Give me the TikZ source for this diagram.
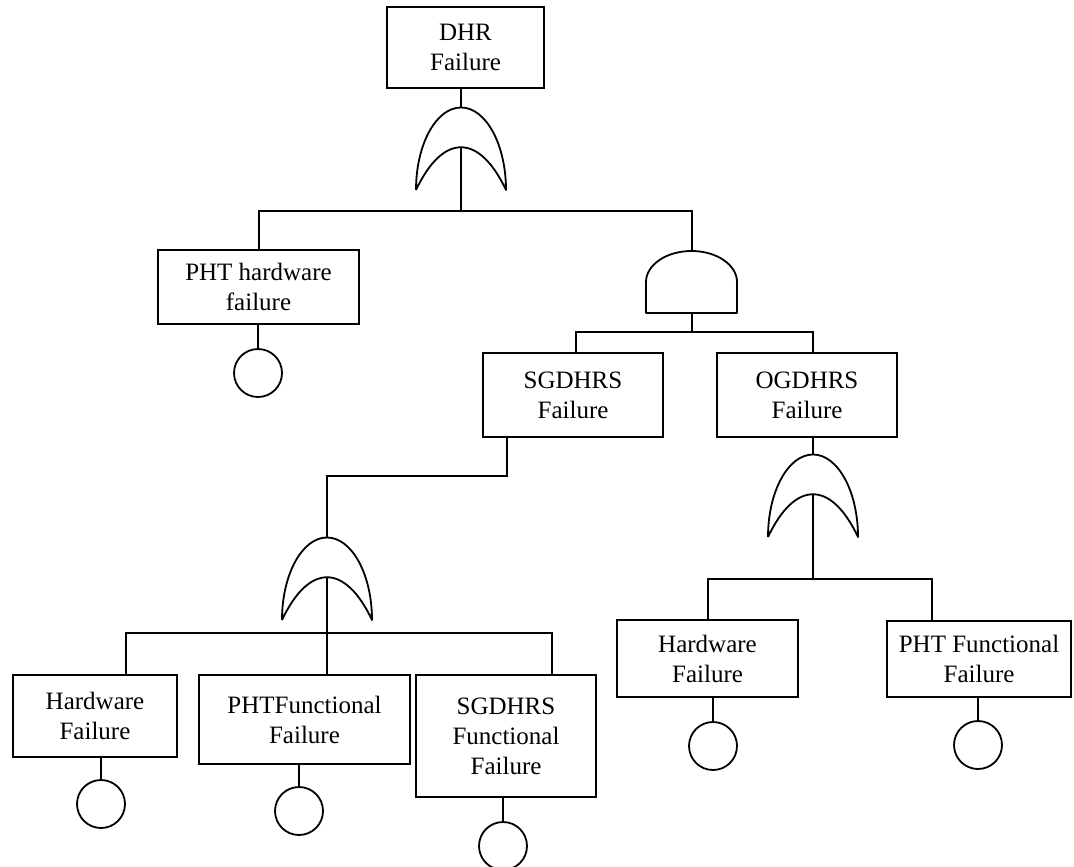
\documentclass[tikz,border=0pt]{standalone}
\usepackage{fontspec}
\setmainfont{Liberation Serif}
\usepackage{tikz}
\usetikzlibrary{calc}
\tikzset{
  ftbox/.style={draw, line width=1pt, rectangle, align=center, inner sep=0pt, font=\fontsize{12.5}{15}\selectfont},
  ftevent/.style={draw, circle, line width=0.9pt, minimum size=24pt, inner sep=0pt},
  ftwire/.style={line width=1pt},
  ftgate/.style={line width=0.9pt, line join=round}
}
\begin{document}
\begin{tikzpicture}[x=0.5pt,y=-0.5pt]
        \newcommand{\figfaultorrx}{22.5pt}
        \newcommand{\figfaultorry}{41.25pt}
        \newcommand{\figfaultandrx}{22.75pt}
        \newcommand{\figfaultandry}{15.5pt}
        \useasboundingbox (0,0) rectangle (1074,866);
        \node[ftbox, minimum width=78.5pt, minimum height=40.5pt] (dhr) at (465.5,47.5) {DHR\\Failure};
        \node[ftbox, minimum width=100.5pt, minimum height=37pt] (phthw) at (258.5,287) {PHT hardware\\failure};
        \node[ftbox, minimum width=90pt, minimum height=42pt] (sgd) at (573,395) {SGDHRS\\Failure};
        \node[ftbox, minimum width=90pt, minimum height=42pt] (ogd) at (807,395) {OGDHRS\\Failure};
        \node[ftbox, minimum width=82pt, minimum height=41pt] (hwA) at (95,716) {Hardware\\Failure};
        \node[ftbox, minimum width=105.5pt, minimum height=44.5pt] (phtfunA) at (304.5,719.5) {PHTFunctional\\Failure};
        \node[ftbox, minimum width=90pt, minimum height=61pt] (sgfun) at (506,736) {SGDHRS\\Functional\\Failure};
        \node[ftbox, minimum width=90.5pt, minimum height=38.5pt] (hwB) at (707.5,658.5) {Hardware\\Failure};
        \node[ftbox, minimum width=92pt, minimum height=38pt] (phtfunB) at (979,659) {PHT Functional\\Failure};
        \node[ftevent] (evA) at (258,373) {};
        \node[ftevent] (evB) at (101,804) {};
        \node[ftevent] (evC) at (299,811) {};
        \node[ftevent] (evD) at (503,846) {};
        \node[ftevent] (evE) at (713,746) {};
        \node[ftevent] (evF) at (978,745) {};
        \coordinate (orAin) at (461,107);
        \coordinate (orAout) at (461,147);
        \coordinate (orCin) at (327,538);
        \coordinate (orCout) at (327,578);
        \coordinate (orDin) at (813,455);
        \coordinate (orDout) at (813,495);
        \coordinate (andin) at (691.5,251);
        \coordinate (andout) at (691.5,313);
        \coordinate (busA) at (461,211);
        \coordinate (busB) at (691.5,332);
        \coordinate (sgdrop) at (507,476);
        \coordinate (busC) at (327,633);
        \coordinate (busD) at (813,579);
        \draw[ftgate] (416,190) arc[start angle=180, end angle=0, x radius=\figfaultorrx, y radius=\figfaultorry] .. controls (479,133) and (443,133) .. (416,190);
        \draw[ftgate] (282,620) arc[start angle=180, end angle=0, x radius=\figfaultorrx, y radius=\figfaultorry] .. controls (345,563) and (309,563) .. (282,620);
        \draw[ftgate] (768,537) arc[start angle=180, end angle=0, x radius=\figfaultorrx, y radius=\figfaultorry] .. controls (831,480) and (795,480) .. (768,537);
        \draw[ftgate] (646,313) -- (646,282) arc[start angle=180, end angle=0, x radius=\figfaultandrx, y radius=\figfaultandry] -- (737,313) -- cycle;
        \draw[ftwire] (dhr.south -| orAin) -- (orAin);
        \draw[ftwire] (orAout) -- (busA);
        \draw[ftwire] (phthw.north) |- (busA) -| (andin);
        \draw[ftwire] (phthw.south -| evA) -- (evA);
        \draw[ftwire] (andout) -- (busB);
        \draw[ftwire] ([xshift=1.5pt]sgd.north) |- (busB) -| ([xshift=3pt]ogd.north);
        \draw[ftwire] (sgd.south -| sgdrop) -- (sgdrop) -| (orCin);
        \draw[ftwire] (orCout) -- (busC);
        \draw[ftwire] ([xshift=15.5pt]hwA.north) |- (busC) -| ([xshift=23pt]sgfun.north);
        \draw[ftwire] (busC) -- (busC |- phtfunA.north);
        \draw[ftwire] (hwA.south -| evB) -- (evB);
        \draw[ftwire] (phtfunA.south -| evC) -- (evC);
        \draw[ftwire] (sgfun.south -| evD) -- (evD);
        \draw[ftwire] ([xshift=3pt]ogd.south) -- (orDin);
        \draw[ftwire] (orDout) -- (busD);
        \draw[ftwire] (hwB.north) |- (busD) -| ([xshift=-23.5pt]phtfunB.north);
        \draw[ftwire] (hwB.south -| evE) -- (evE);
        \draw[ftwire] (phtfunB.south -| evF) -- (evF);
\end{tikzpicture}
\end{document}
